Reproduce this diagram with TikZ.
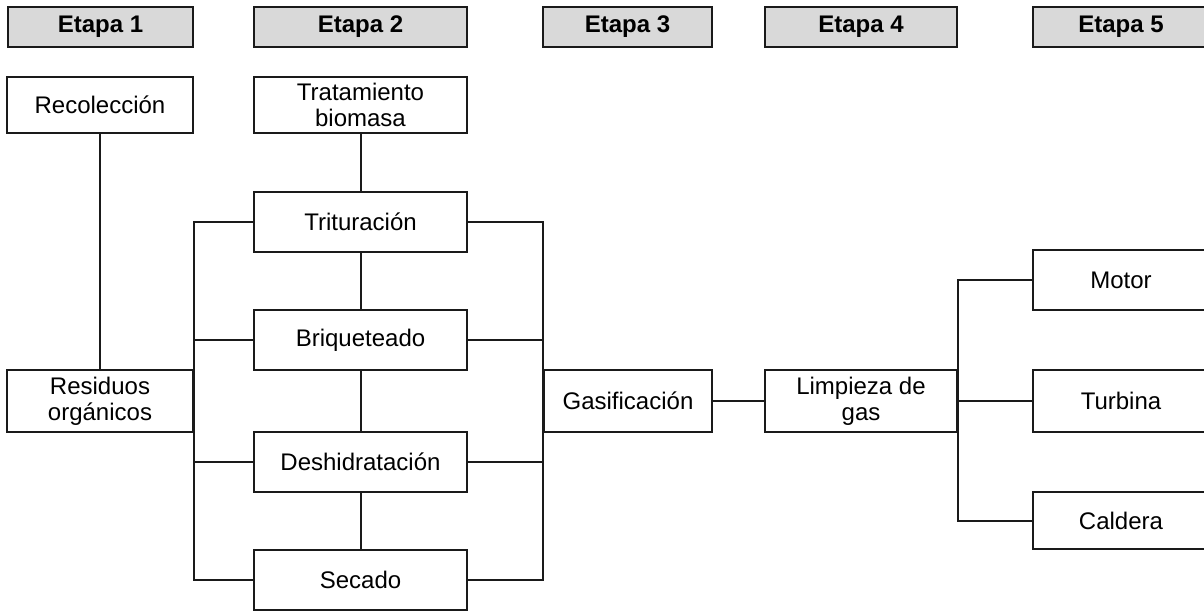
\documentclass[tikz,border=0pt]{standalone}
\usepackage{fontspec}
\setmainfont{Liberation Sans}
\definecolor{hdrgray}{HTML}{D9D9D9}
\definecolor{ink}{HTML}{1A1A1A}
\begin{document}
\begin{tikzpicture}[x=1pt,y=-1pt,
  font=\fontsize{24}{26}\selectfont,
  box/.style={draw=ink,line width=2pt,fill=white,inner sep=0pt,align=center,
    minimum width=#1},
  box/.default=213pt,
  hdr/.style={draw=ink,line width=2.2pt,fill=hdrgray,inner sep=0pt,align=center,
    minimum height=40pt,font=\fontsize{24}{26}\selectfont\bfseries},
  link/.style={draw=ink,line width=2pt}]
\useasboundingbox (0,0) rectangle (1204,612);
\clip (0,0) rectangle (1204,612);
% headers
\node[hdr,minimum width=185pt] (h1) at (100.5,27) {Etapa 1};
\node[hdr,minimum width=213pt] (h2) at (360.5,27) {Etapa 2};
\node[hdr,minimum width=169pt] (h3) at (627.5,27) {Etapa 3};
\node[hdr,minimum width=192pt] (h4) at (861,27) {Etapa 4};
\node[hdr,minimum width=176pt] (h5) at (1121,27) {Etapa 5};
% boxes
\node[box=186pt,minimum height=56pt] (rec) at (100,105) {Recolección};
\node[box=186pt,minimum height=62pt] (res) at (100,401) {Residuos\\orgánicos};
\node[box,minimum height=56pt] (trat) at (360.5,105) {Tratamiento\\biomasa};
\node[box,minimum height=60pt] (trit) at (360.5,222) {Trituración};
\node[box,minimum height=60pt] (briq) at (360.5,340) {Briqueteado};
\node[box,minimum height=60pt] (desh) at (360.5,462) {Deshidratación};
\node[box,minimum height=60pt] (sec) at (360.5,580) {Secado};
\node[box=168pt,minimum height=62pt] (gas) at (628,401) {Gasificación};
\node[box=192pt,minimum height=62pt] (limp) at (861,401) {Limpieza de\\gas};
\node[box=176pt,minimum height=60pt] (motor) at (1121,280) {Motor};
\node[box=176pt,minimum height=62pt] (turb) at (1121,401) {Turbina};
\node[box=176pt,minimum height=57pt] (cald) at (1121,520.5) {Caldera};
% connectors
\draw[link] (rec.south) -- (res.north);
\draw[link] (trat.south) -- (trit.north);
\draw[link] (trit.south) -- (briq.north);
\draw[link] (briq.south) -- (desh.north);
\draw[link] (desh.south) -- (sec.north);
% left bus
\coordinate (lb1) at (trit.west -| res.east);
\coordinate (lb4) at (sec.west -| res.east);
\draw[link] (trit.west) -- (lb1) -- (lb4) -- (sec.west);
\draw[link] (briq.west) -- (briq.west -| res.east);
\draw[link] (desh.west) -- (desh.west -| res.east);
% right bus
\coordinate (rb1) at (trit.east -| gas.west);
\coordinate (rb4) at (sec.east -| gas.west);
\draw[link] (trit.east) -- (rb1) -- (rb4) -- (sec.east);
\draw[link] (briq.east) -- (briq.east -| gas.west);
\draw[link] (desh.east) -- (desh.east -| gas.west);
% gas to limpieza
\draw[link] (gas.east) -- (limp.west);
% fork
\coordinate (f1) at (motor.west -| limp.east);
\coordinate (f3) at (cald.west -| limp.east);
\draw[link] (motor.west) -- (f1) -- (f3) -- (cald.west);
\draw[link] (turb.west) -- (turb.west -| limp.east);
\end{tikzpicture}
\end{document}
